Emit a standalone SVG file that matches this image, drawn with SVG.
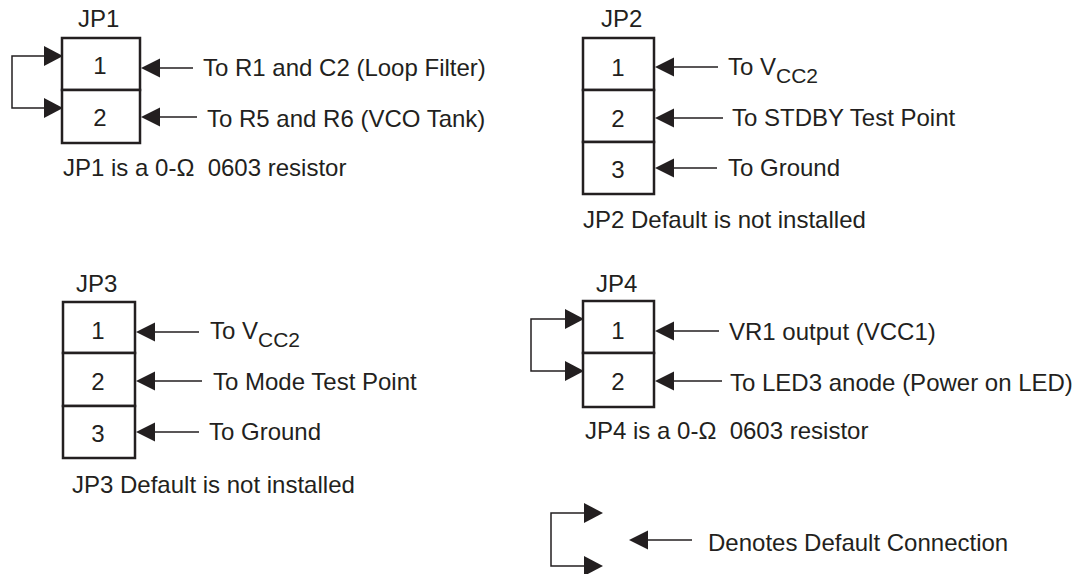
<svg xmlns="http://www.w3.org/2000/svg" width="1078" height="574" viewBox="0 0 1078 574">
<defs>
<style>
text{font-family:"Liberation Sans",Arial,sans-serif;font-size:24px;fill:#231f20;white-space:pre}
.n{text-anchor:middle}
.box{fill:#fff;stroke:#231f20;stroke-width:2.5}
.ln{fill:none;stroke:#231f20;stroke-width:1.5}
.hd{fill:#231f20;stroke:none}
.sub{font-size:21px}
</style>
<polygon id="hl" points="0,0 19,-9.5 19,9.5"/>
<polygon id="hr" points="0,0 -19,-10 -19,10"/>
</defs>
<rect width="1078" height="574" fill="#fff"/>

<g id="jp1">
<text x="78" y="27">JP1</text>
<rect class="box" x="62" y="38" width="78" height="52"/>
<rect class="box" x="62" y="90" width="78" height="53"/>
<text class="n" x="100" y="74">1</text>
<text class="n" x="100" y="126">2</text>
<text x="203" y="76">To R1 and C2 (Loop Filter)</text>
<text x="207" y="127">To R5 and R6 (VCO Tank)</text>
<text x="63" y="176">JP1 is a 0-Ω  0603 resistor</text>
</g>

<g id="jp2">
<text x="601" y="27">JP2</text>
<rect class="box" x="583" y="38" width="71" height="52"/>
<rect class="box" x="583" y="90" width="71" height="52"/>
<rect class="box" x="583" y="142" width="71" height="52"/>
<text class="n" x="618" y="76">1</text>
<text class="n" x="618" y="127">2</text>
<text class="n" x="618" y="178">3</text>
<text x="728" y="75">To V<tspan class="sub" dy="8">CC2</tspan></text>
<text x="732" y="126">To STDBY Test Point</text>
<text x="728" y="176">To Ground</text>
<text x="583" y="228">JP2 Default is not installed</text>
</g>

<g id="jp3">
<text x="76" y="292">JP3</text>
<rect class="box" x="63" y="302" width="72" height="51"/>
<rect class="box" x="63" y="353" width="72" height="53"/>
<rect class="box" x="63" y="406" width="72" height="52"/>
<text class="n" x="98" y="339">1</text>
<text class="n" x="98" y="390">2</text>
<text class="n" x="98" y="442">3</text>
<text x="210" y="339">To V<tspan class="sub" dy="8">CC2</tspan></text>
<text x="213" y="390">To Mode Test Point</text>
<text x="209" y="440">To Ground</text>
<text x="72" y="493">JP3 Default is not installed</text>
</g>

<g id="jp4">
<text x="596" y="292">JP4</text>
<rect class="box" x="583" y="301" width="71" height="52"/>
<rect class="box" x="583" y="353" width="71" height="54"/>
<text class="n" x="618" y="339">1</text>
<text class="n" x="618" y="390">2</text>
<text x="729" y="340">VR1 output (VCC1)</text>
<text x="730" y="391">To LED3 anode (Power on LED)</text>
<text x="585" y="439">JP4 is a 0-Ω  0603 resistor</text>
</g>

<g id="legend">
<text x="708" y="551">Denotes Default Connection</text>
</g>

<g id="connectors">
<!-- JP1 -->
<path class="ln" d="M46 56H12V108H46"/>
<use href="#hr" class="hd" x="63" y="56"/>
<use href="#hr" class="hd" x="63" y="108"/>
<path class="ln" d="M155 68H193M155 117H197"/>
<use href="#hl" class="hd" x="141" y="68"/>
<use href="#hl" class="hd" x="141" y="117"/>
<!-- JP2 -->
<path class="ln" d="M669 67H718M669 118H723M669 168H717"/>
<use href="#hl" class="hd" x="655" y="67"/>
<use href="#hl" class="hd" x="655" y="118"/>
<use href="#hl" class="hd" x="655" y="168"/>
<!-- JP3 -->
<path class="ln" d="M150 332H199M150 381H202M150 432H199"/>
<use href="#hl" class="hd" x="136" y="332"/>
<use href="#hl" class="hd" x="136" y="381"/>
<use href="#hl" class="hd" x="136" y="432"/>
<!-- JP4 -->
<path class="ln" d="M567 319H531V371H567"/>
<use href="#hr" class="hd" x="584" y="319"/>
<use href="#hr" class="hd" x="584" y="371"/>
<path class="ln" d="M669 331H719M669 381H722"/>
<use href="#hl" class="hd" x="655" y="331"/>
<use href="#hl" class="hd" x="655" y="381"/>
<!-- legend -->
<path class="ln" d="M587 513H551V566H587"/>
<use href="#hr" class="hd" x="603" y="513"/>
<use href="#hr" class="hd" x="603" y="566"/>
<path class="ln" d="M643 540H692"/>
<use href="#hl" class="hd" x="629" y="540"/>
</g>
</svg>
